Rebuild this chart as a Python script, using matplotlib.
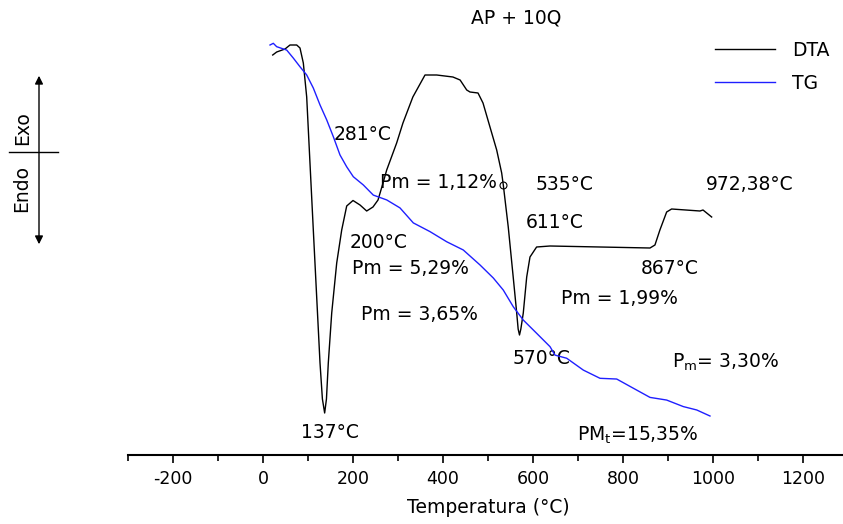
import matplotlib
matplotlib.use("Agg")
from matplotlib import pyplot as plt
from matplotlib.patches import FancyArrowPatch
from matplotlib.lines import Line2D
import numpy as np

plt.rcParams['font.family'] = ['DejaVu Sans']
plt.rcParams['mathtext.fontset'] = 'dejavusans'
plt.rcParams['axes.unicode_minus'] = False

# DTA curve (temperature in C, signal in arbitrary units)
dta_T = [21.6, 30.4, 48.9, 60, 74.9, 82.2, 89.6, 97.1, 104.4, 111.8, 119.3,
         126.7, 132, 137, 141, 145.1, 152.7, 163.8, 174.9, 186, 200, 215.6,
         230.4, 244.4, 255.6, 266.7, 274.9, 297, 311, 333, 360, 386, 422, 438,
         452.7, 460, 477.8, 488.9, 504.4, 519.3, 530.4, 534, 545, 556, 563.8,
         567, 570, 573, 578.4, 586, 593.3, 608, 637.8, 748.9, 860, 871, 882,
         897, 908, 971, 977.8, 997]
dta_v = [40.0, 40.3, 40.6, 41.0, 41.0, 40.7, 39.2, 35.8, 29.2, 22.5, 15.8,
         9.2, 5.6, 4.2, 5.6, 9.2, 14.2, 19.2, 22.5, 24.9, 25.45, 25.0,
         24.4, 24.8, 25.5, 27.2, 28.5, 31.2, 33.2, 35.8, 38.0, 38.0, 37.8, 37.5,
         36.5, 36.3, 36.2, 35.2, 32.8, 30.5, 28.2, 27.0, 22.8, 17.8, 14.2,
         12.6, 12.0, 12.6, 14.2, 17.8, 19.8, 20.8, 20.9, 20.8, 20.7, 21.0, 22.5,
         24.3, 24.6, 24.4, 24.5, 23.8]

# TG curve (temperature in C, mass %)
tg_T = [15.6, 22.9, 30.4, 41.6, 52.7, 67.3, 82.2, 97.1, 111.8, 126.7, 141.6,
        156.2, 171.1, 186, 200.7, 222.9, 245.1, 274.9, 304.4, 334, 371, 408.2,
        445, 482.2, 511.8, 534, 556.2, 578.4, 608.2, 637.8, 648.9, 674.9,
        711.8, 748.9, 786, 822.9, 860, 897, 934, 963.8, 993.3]
tg_m = [100.0, 100.07, 99.93, 99.86, 99.79, 99.46, 99.10, 98.76, 98.22, 97.52,
        96.90, 96.21, 95.45, 94.96, 94.55, 94.21, 93.79, 93.59, 93.26, 92.64,
        92.28, 91.86, 91.52, 90.90, 90.36, 89.86, 89.17, 88.62, 88.07, 87.52,
        87.17, 87.04, 86.55, 86.21, 86.18, 85.80, 85.42, 85.31, 85.04, 84.90,
        84.65]

marker_T = [534]
marker_v = [27.0]

# labels: text, temperature, DTA-unit height
labels = [
    ("AP + 10Q", 562, 43.7),
    ("281°C", 222, 32.0),
    ("Pm = 1,12%", 389, 27.3),
    ("535°C", 669, 27.0),
    ("972,38°C", 1082, 27.0),
    ("611°C", 649, 23.2),
    ("200°C", 256, 21.3),
    ("867°C", 904, 18.7),
    ("Pm = 5,29%", 327, 18.6),
    ("Pm = 1,99%", 793, 15.7),
    ("Pm = 3,65%", 347, 14.0),
    ("570°C", 620, 9.7),
    ("P$_{\\mathrm{m}}$= 3,30%", 1027, 9.3),
    ("137°C", 149, 2.3),
    ("PM$_{\\mathrm{t}}$=15,35%", 833, 2.0),
]

W, H = 843, 524
fig = plt.figure(figsize=(W / 100, H / 100), dpi=100)
ax = fig.add_axes([128 / W, 1 - 455 / H, 720 / W, 455 / H])
ax.set_xlim(-300, 1300)
ax.set_ylim(0, 45.5)
ax.plot(dta_T, dta_v, color='black', lw=1)
ax.plot(marker_T, marker_v, 'o', mfc='none', mec='black', ms=5, mew=0.8)

ax2 = ax.twinx()
ax2.set_ylim(100 - (455 - 45) / 24.17, 100 + 45 / 24.17)
ax2.plot(tg_T, tg_m, color='#1f1fff', lw=1)

for a in (ax, ax2):
    for s in ('top', 'right', 'left'):
        a.spines[s].set_visible(False)
    a.set_yticks([])
ax2.spines['bottom'].set_visible(False)
ax.spines['bottom'].set_linewidth(1.5)

ax.set_xticks(np.arange(-200, 1201, 200))
ax.set_xticks(np.arange(-300, 1301, 100), minor=True)
ax.tick_params(axis='x', which='major', length=6, width=1.2, labelsize=12.5, pad=5)
ax.tick_params(axis='x', which='minor', length=4, width=1.2)
ax.set_xlabel('Temperatura (°C)', fontsize=13.5, labelpad=7)

for txt, tx, ty in labels:
    ax.text(tx, ty, txt, fontsize=13.5, ha='center', va='center')

handles = [Line2D([], [], color='black', lw=1), Line2D([], [], color='#1f1fff', lw=1)]
fig.legend(handles, ['DTA', 'TG'], loc='upper left', bbox_to_anchor=(698 / W, 1 - 24 / H),
           frameon=False, fontsize=13.5, handlelength=3.2, handletextpad=0.9, labelspacing=0.75)

# Endo / Exo indicator
fig.add_artist(FancyArrowPatch((39, H - 247), (39, H - 73), transform=None,
                               arrowstyle='<|-|>', mutation_scale=12, color='black', lw=1))
fig.add_artist(Line2D([9 / W, 58 / W], [1 - 152 / H, 1 - 152 / H], color='black', lw=1))
fig.text(23 / W, 1 - 128 / H, 'Exo', rotation=90, ha='center', va='center', fontsize=13.5)
fig.text(22 / W, 1 - 188 / H, 'Endo', rotation=90, ha='center', va='center', fontsize=13.5)

fig.savefig('out.png', dpi=100)
